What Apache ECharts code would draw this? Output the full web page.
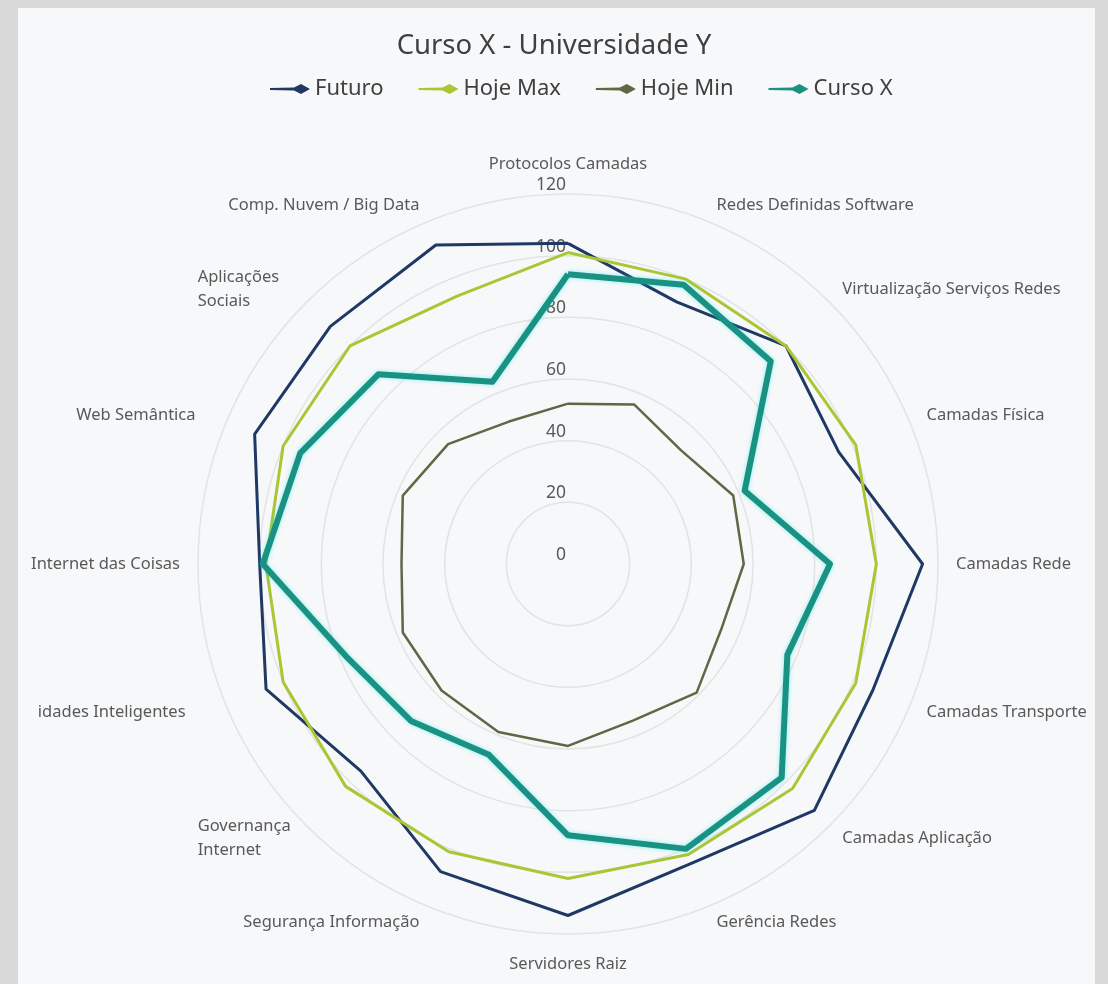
<!DOCTYPE html>
<html>
<head>
<meta charset="utf-8">
<script src="https://cdn.jsdelivr.net/npm/echarts@6/dist/echarts.min.js"></script>
<style>
html,body{margin:0;padding:0;width:1108px;height:984px;background:#d9d9d9;overflow:hidden;}
#panel{position:absolute;left:18px;top:8px;width:1077px;height:976px;background:#f7f8fa;}
#chart{position:absolute;left:0;top:0;width:1108px;height:984px;}
</style>
</head>
<body>
<div id="panel"></div>
<div id="chart"></div>
<script>
// Indicators in clockwise order starting at the top
const categories = ['Protocolos Camadas','Redes Definidas Software','Virtualização Serviços Redes','Camadas Física','Camadas Rede','Camadas Transporte','Camadas Aplicação','Gerência Redes','Servidores Raiz','Segurança Informação','Governança\nInternet','idades Inteligentes','Internet das Coisas','Web Semântica','Aplicações\nSociais','Comp. Nuvem / Big Data'];
const seriesNames = ['Futuro','Hoje Max','Hoje Min','Curso X'];
const futuro  = [104, 92, 100, 95, 115, 107, 113, 105, 114, 108, 95, 106, 100, 110, 109, 112];
const hojeMax = [101, 100, 100, 101, 100, 101, 103, 102, 102, 101, 102, 100, 98, 100, 100, 94];
const hojeMin = [52, 56, 52, 58, 57, 54, 59, 55, 59, 59, 58, 58, 54, 58, 55, 50];
const cursoX  = [94, 98, 93, 62, 85, 77, 98, 100, 88, 67, 72, 78, 99, 94, 87, 64];
const axisMin = 0, axisMax = 120, axisInterval = 20;

// ECharts lays radar indicators counter-clockwise: reorder to draw clockwise
const order = [0];
for (let i = categories.length - 1; i >= 1; i--) order.push(i);
const reorder = arr => order.map(i => arr[i]);

const FONT = "'Noto Sans', sans-serif";
const colors = ['#1f3864', '#a9c634', '#5f6845', '#1a9283'];
const widths = [3, 3, 2.5, 6];
const values = [futuro, hojeMax, hojeMin, cursoX];

const indicator = reorder(categories).map((name, k) => {
  const o = { name: name, min: axisMin, max: axisMax };
  if (k === 0) o.axisLabel = { show: true };
  return o;
});

const NAME_FS = 16.5;
const chart = echarts.init(document.getElementById('chart'), null, {renderer: 'canvas'});
chart.setOption({
  backgroundColor: 'transparent',
  animation: false,
  color: colors,
  title: {
    text: 'Curso X - Universidade Y',
    left: 'center',
    top: 27,
    textStyle: { fontFamily: FONT, fontSize: 27.5, fontWeight: 'normal', color: '#3f3f3f' }
  },
  legend: {
    top: 73,
    left: 265,
    itemWidth: 40,
    itemHeight: 10,
    itemGap: 35,
    icon: 'path://M0,4 L24,3.5 L31,0 L40,5 L31,10 L24,6.5 L0,6 Z',
    textStyle: { fontFamily: FONT, fontSize: 22, color: '#3f3f3f' },
    data: seriesNames
  },
  radar: {
    center: [568, 564],
    radius: 370,
    shape: 'circle',
    splitNumber: (axisMax - axisMin) / axisInterval,
    indicator: indicator,
    axisNameGap: 18,
    axisName: {
      color: '#595959', fontFamily: FONT, fontSize: NAME_FS, lineHeight: 24,
      formatter: function (name) {
        if (name.indexOf('\n') >= 0) {
          return name.split('\n').map(s => '{l|' + s + '}').join('\n');
        }
        if (name === 'idades Inteligentes') return '{p|' + name + '}';
        if (name === 'Web Semântica') return '{q|' + name + '}';
        return name;
      },
      rich: {
        l: { align: 'left', width: 96, color: '#595959', fontFamily: FONT, fontSize: NAME_FS, lineHeight: 24 },
        p: { padding: [0, 24, 0, 0], color: '#595959', fontFamily: FONT, fontSize: NAME_FS },
        q: { padding: [0, 14, 0, 0], color: '#595959', fontFamily: FONT, fontSize: NAME_FS }
      }
    },
    axisLine: { show: false },
    axisTick: { show: false },
    axisLabel: { show: false, color: '#595959', fontFamily: FONT, fontSize: 17.5, margin: 2, verticalAlign: 'bottom', showMinLabel: true, showMaxLabel: true },
    splitLine: { lineStyle: { color: '#e3e3e3', width: 1.5 } },
    splitArea: { show: false }
  },
  series: [{
    type: 'radar',
    symbol: 'none',
    data: seriesNames.map((n, i) => ({
      name: n,
      value: reorder(values[i]),
      lineStyle: {
        color: colors[i], width: widths[i],
        shadowColor: i === 3 ? 'rgba(0,230,230,0.45)' : 'transparent',
        shadowBlur: i === 3 ? 4 : 0
      },
      itemStyle: { color: colors[i] }
    }))
  }]
});
</script>
</body>
</html>
